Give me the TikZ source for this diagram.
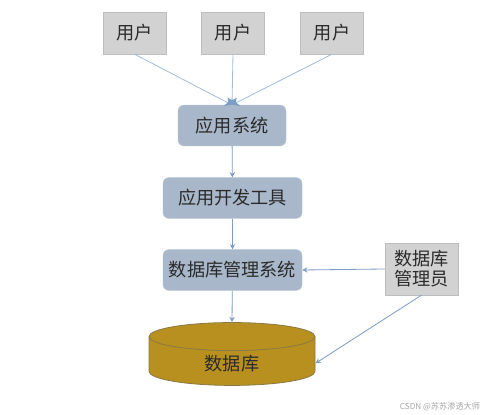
\documentclass[tikz,border=0pt]{standalone}
\usepackage{fontspec}
\setmainfont{Noto Sans CJK SC}
\usepackage{tikz}
\usetikzlibrary{arrows.meta, positioning, shapes.geometric}
\definecolor{usergray}{HTML}{D2D2D2}
\definecolor{sysblue}{HTML}{A8B7CA}
\definecolor{sysedge}{HTML}{B9C5D4}
\definecolor{dbgold}{HTML}{B8901F}
\definecolor{dbedge}{HTML}{8C7A45}
\definecolor{linkblue}{HTML}{A3BEDA}
\definecolor{arrowblue}{HTML}{7C9DC6}
\definecolor{textgray}{HTML}{2A2A2A}
\newcommand{\boxfont}{\fontsize{15.5}{18}\selectfont}
\tikzset{
    userbox/.style={fill=usergray, draw=usergray!90!black, line width=.3pt,
        minimum width=1.89cm, minimum height=1.26cm, text=textgray, font=\boxfont},
    sysbox/.style={fill=sysblue, draw=sysedge, rounded corners=5pt,
        minimum height=1.22cm, text=textgray, font=\boxfont},
    dbshape/.style={cylinder, shape border rotate=90, aspect=0.45,
        minimum width=4.98cm, minimum height=1.45cm, fill=dbgold, draw=dbedge,
        line width=.7pt, text=textgray, font=\boxfont},
    link/.style={draw=linkblue, line width=.7pt, -{Stealth[length=6pt,width=8pt,color=arrowblue]}},
    flow/.style={draw=arrowblue, line width=.7pt, -{Stealth[length=4.5pt,width=4.5pt]}}
}
\begin{document}
\begin{tikzpicture}
\useasboundingbox[fill=white] (0,0) rectangle (14.97,12.45);
\node[userbox] (user1) at (4.035,11.46) {用户};
\node[userbox] (user2) at (6.99,11.46) {用户};
\node[userbox] (user3) at (9.96,11.46) {用户};
\node[sysbox, minimum width=3.24cm] (app) at (6.96,8.685) {应用系统};
\node[sysbox, minimum width=4.17cm] (tool) at (6.975,6.51) {应用开发工具};
\node[sysbox, minimum width=4.17cm] (dbms) at (6.975,4.35) {数据库管理系统};
\node[userbox, minimum width=2.19cm, minimum height=1.56cm, align=center,
    font=\boxfont\linespread{0.95}\selectfont] (admin) at (12.645,4.38) {数据库\\管理员};
\node[dbshape] (db) at (6.96,1.55) {数据库};
\node[text=black!35, font=\scriptsize] (mark) at (13.2,0.24) {CSDN @苏苏渗透大师};
\draw[link] (user1.south) -- (app.north);
\draw[link] (user3.south) -- (app.north);
\draw[link] (user2.south) -- (app.north);
\draw[flow] (app) -- (tool);
\draw[flow] (tool) -- (dbms);
\draw[flow] (dbms) -- (db.north);
\draw[flow] (admin.west) -- (dbms.east);
\draw[flow] (admin.south) -- (db.east);
\end{tikzpicture}
\end{document}
